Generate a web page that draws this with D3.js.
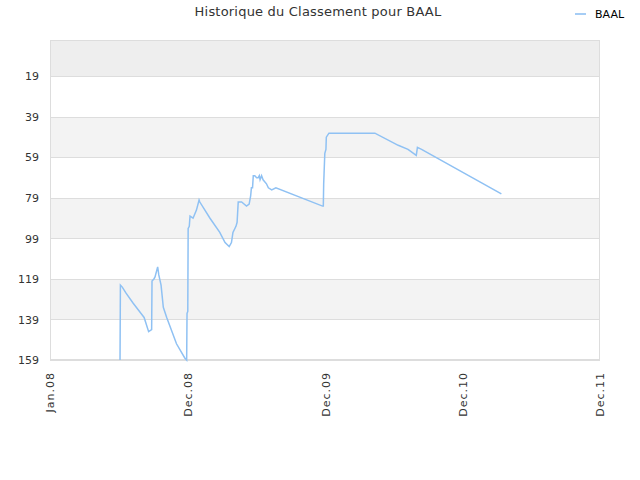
<!DOCTYPE html>
<html>
<head>
<meta charset="utf-8">
<script src="https://cdn.jsdelivr.net/npm/d3@7"></script>
<style>
  body { margin: 0; background: #fff; }
  text { font-family: "DejaVu Sans", sans-serif; }
</style>
</head>
<body>
<svg id="chart" width="640" height="480"></svg>
<script>
var chartTitle = 'Historique du Classement pour BAAL';
var seriesName = 'BAAL';

// dates and ranks
var dates = [
  '2008-07-05', '2008-07-06', '2008-07-11', '2008-07-21', '2008-08-09', '2008-09-03', '2008-09-07',
  '2008-09-19', '2008-09-27', '2008-09-28', '2008-10-03', '2008-10-06', '2008-10-13', '2008-10-16',
  '2008-10-22', '2008-10-28', '2008-11-06', '2008-12-02', '2008-12-24', '2008-12-29', '2008-12-30',
  '2009-01-01', '2009-01-02', '2009-01-05', '2009-01-07', '2009-01-15', '2009-01-24', '2009-01-31',
  '2009-02-02', '2009-03-01', '2009-03-27', '2009-04-10', '2009-04-21', '2009-04-27', '2009-05-01',
  '2009-05-09', '2009-05-12', '2009-05-15', '2009-05-24', '2009-06-06', '2009-06-13', '2009-06-17',
  '2009-06-19', '2009-06-22', '2009-06-24', '2009-06-28', '2009-07-03', '2009-07-07', '2009-07-10',
  '2009-07-12', '2009-07-16', '2009-07-20', '2009-07-29', '2009-08-03', '2009-08-12', '2009-08-23',
  '2009-12-25', '2009-12-27', '2009-12-28', '2009-12-29', '2009-12-31', '2010-01-03', '2010-01-04',
  '2010-01-11', '2010-01-18', '2010-05-04', '2010-05-13', '2010-07-14', '2010-08-09', '2010-08-31',
  '2010-09-03', '2010-09-14', '2011-04-14'
];
var ranks = [
  159, 122, 123, 126, 131, 137, 138,
  145, 144, 120, 119, 118, 113, 117,
  122, 133, 138, 151, 158, 159, 136,
  135, 94, 93, 88, 89, 85, 80,
  81, 89, 96, 101, 103, 101, 96,
  93, 91, 81, 81, 83, 82, 78,
  74, 74, 68, 68, 69, 69, 68,
  70, 68, 70, 72, 74, 75, 74,
  83, 83, 72, 67, 57, 55, 49,
  47, 47, 47, 47, 53, 55, 58,
  54, 55, 77
];

var yTicks = [19, 39, 59, 79, 99, 119, 139, 159];
var xTickDates = ['2008-01-01', '2009-01-01', '2010-01-01', '2011-01-01', '2012-01-01'];
var xTickLabels = ['Jan.08', 'Dec.08', 'Dec.09', 'Dec.10', 'Dec.11'];

var parse = d3.timeParse('%Y-%m-%d');
var points = dates.map(function (d, i) { return { date: parse(d), rank: ranks[i] }; });

var svg = d3.select('#chart');
var plotLeft = 50, plotRight = 600, plotTop = 40, plotBottom = 360;

var x = d3.scaleTime()
  .domain([parse(xTickDates[0]), parse(xTickDates[xTickDates.length - 1])])
  .range([plotLeft, plotRight]);
var y = d3.scaleLinear().domain([1, 159]).range([plotTop, plotBottom]);

// alternating bands between gridlines
var bandEdges = [1].concat(yTicks);
var bands = [];
for (var i = 0; i < bandEdges.length - 1; i++) {
  bands.push({ from: bandEdges[i], to: bandEdges[i + 1], idx: i });
}
svg.append('g').selectAll('rect').data(bands).enter().append('rect')
  .attr('x', plotLeft)
  .attr('width', plotRight - plotLeft)
  .attr('y', function (d) { return y(d.from); })
  .attr('height', function (d) { return y(d.to) - y(d.from); })
  .attr('fill', function (d) {
    if (d.idx === 0) return '#eeeeee';
    return d.idx % 2 === 0 ? '#f3f3f3' : '#ffffff';
  });

svg.append('g').selectAll('line').data(yTicks).enter().append('line')
  .attr('x1', plotLeft).attr('x2', plotRight)
  .attr('y1', function (d) { return Math.round(y(d)) + 0.5; })
  .attr('y2', function (d) { return Math.round(y(d)) + 0.5; })
  .attr('stroke', '#dddddd');

svg.append('rect')
  .attr('x', plotLeft + 0.5).attr('y', plotTop + 0.5)
  .attr('width', plotRight - plotLeft - 1).attr('height', plotBottom - plotTop - 1)
  .attr('fill', 'none').attr('stroke', '#dddddd');

// y axis
var yAxis = svg.append('g')
  .attr('transform', 'translate(' + plotLeft + ',0)')
  .call(d3.axisLeft(y).tickValues(yTicks).tickSize(0).tickPadding(11));
yAxis.select('.domain').remove();
yAxis.selectAll('text').attr('fill', '#333').style('font-size', '11px');

// x axis
var xAxis = svg.append('g')
  .attr('transform', 'translate(0,' + plotBottom + ')')
  .call(d3.axisBottom(x)
    .tickValues(xTickDates.map(parse))
    .tickSize(0)
    .tickFormat(function (d, i) { return xTickLabels[i]; }));
xAxis.select('.domain').remove();
xAxis.selectAll('text')
  .attr('fill', '#333')
  .style('font-size', '11px')
  .style('letter-spacing', '1px')
  .attr('text-anchor', 'end')
  .attr('transform', 'rotate(-90)')
  .attr('x', -12).attr('y', 0).attr('dy', '0.35em');

// line
var line = d3.line()
  .x(function (d) { return x(d.date); })
  .y(function (d) { return y(d.rank); });

svg.append('path')
  .datum(points)
  .attr('d', line)
  .attr('fill', 'none')
  .attr('stroke', '#8fc1f3')
  .attr('stroke-width', 1.5);

// title
svg.append('text')
  .attr('x', 318).attr('y', 16)
  .attr('text-anchor', 'middle')
  .attr('fill', '#333')
  .style('font-size', '13px')
  .style('letter-spacing', '0.2px')
  .text(chartTitle);

// legend
svg.append('line')
  .attr('x1', 575).attr('x2', 586).attr('y1', 14).attr('y2', 14)
  .attr('stroke', '#a6cdf5').attr('stroke-width', 2);
svg.append('text')
  .attr('x', 595).attr('y', 18)
  .attr('fill', '#000')
  .style('font-size', '11px')
  .text(seriesName);
</script>
</body>
</html>
